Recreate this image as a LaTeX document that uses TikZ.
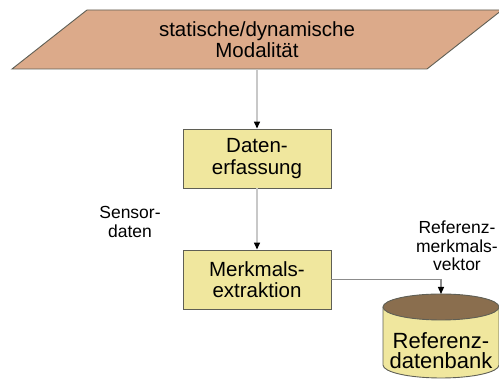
\documentclass[tikz,border=0pt]{standalone}
\usepackage{fontspec}
\setmainfont{Liberation Sans}
\usetikzlibrary{arrows.meta}
\definecolor{modfill}{RGB}{220,170,138}
\definecolor{boxfill}{RGB}{240,231,158}
\definecolor{dbtopfill}{RGB}{138,110,78}
\definecolor{edgecol}{RGB}{95,95,85}
\definecolor{linkcol}{RGB}{200,200,200}
\definecolor{linkdark}{RGB}{140,140,140}
\tikzset{
  procbox/.style={draw=edgecol, line width=0.9pt, fill=boxfill,
    minimum width=148pt, minimum height=59pt, inner sep=0pt,
    align=center, font=\fontsize{20.5}{21.5}\selectfont},
  lbl/.style={align=center, font=\fontsize{17.5}{18.5}\selectfont, inner sep=0pt},
  link/.style={draw=linkcol, line width=1.4pt,
    -{Triangle[width=6pt,length=7pt,color=black]}},
  linkb/.style={draw=linkdark, line width=1.2pt,
    -{Triangle[width=6pt,length=7pt,color=black]}},
}
\begin{document}
\begin{tikzpicture}[x=1pt,y=1pt]
  \useasboundingbox (0,0) rectangle (499,379);
  \clip (0,0) rectangle (499,379);

  % input modality (parallelogram)
  \draw[draw=edgecol, line width=0.9pt, fill=modfill]
    (87,369) -- (502,369) -- (427,310) -- (12,310) -- cycle;
  \node[minimum width=340pt, minimum height=59pt, inner sep=0pt, align=center,
        font=\fontsize{20.5}{21.5}\selectfont] (mod) at (257,339.5)
        {statische/dynamische\\Modalität};

  % processing steps
  \node[procbox] (erf) at (257,220.5) {Daten-\\erfassung};
  \node[procbox] (merk) at (257,99.5) {Merkmals-\\extraktion};

  % reference database (cylinder)
  \fill[boxfill] (383,72) -- (383,14) arc (180:360:58 and 13) -- (499,72) -- cycle;
  \draw[edgecol, line width=0.9pt] (383,72) -- (383,14) arc (180:360:58 and 13) -- (499,72);
  \draw[edgecol, line width=0.9pt, fill=dbtopfill] (441,72) ellipse (58 and 13);
  \coordinate (dbtop) at (441,85);
  \node[align=center, inner sep=0pt, font=\fontsize{22}{20}\selectfont] (db) at (441,28.5)
        {Referenz-\\datenbank};

  % labels
  \node[lbl] (sens) at (130,157) {Sensor-\\daten};
  \node[lbl] (refv) at (457,133) {Referenz-\\merkmals-\\vektor};

  % connectors
  \draw[link] (mod.south) -- (erf.north);
  \draw[link] (erf.south) -- (merk.north);
  \draw[linkb] (merk.east) -| (dbtop);
\end{tikzpicture}
\end{document}
